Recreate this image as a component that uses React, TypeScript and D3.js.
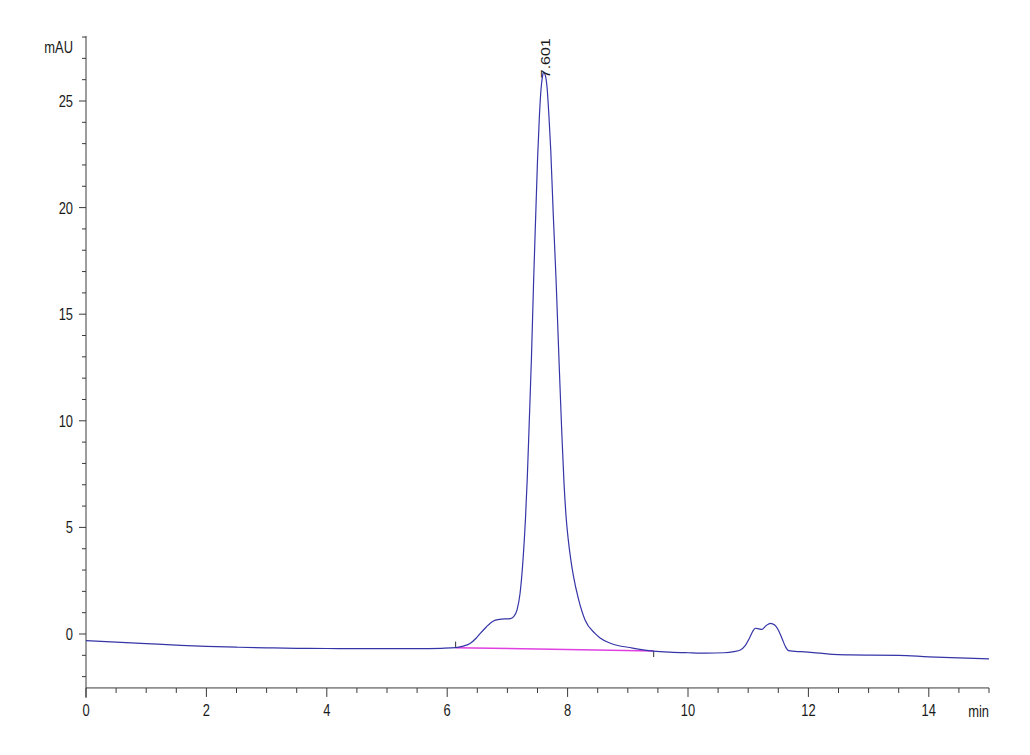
import React from "react";
import * as d3 from "d3";

// Chromatogram trace (time in min, absorbance in mAU)
const times = [
  0, 0.5, 1.0, 1.5, 2.0, 2.5, 3.0, 3.5, 4.0, 4.5, 5.0, 5.5, 5.9, 6.14, 6.25, 6.38, 6.48, 6.55, 6.65, 6.72, 6.8, 6.9, 7.0, 7.05, 7.1,
  7.16, 7.21, 7.26, 7.3, 7.33, 7.36, 7.4, 7.435, 7.47, 7.5, 7.53, 7.56, 7.58, 7.601, 7.63, 7.66, 7.69, 7.72, 7.76, 7.81, 7.857,
  7.9, 7.94, 7.975, 8.01, 8.05, 8.095, 8.18, 8.29, 8.455, 8.54, 8.7, 8.85, 9.0, 9.2, 9.43, 9.7, 10.0, 10.3, 10.6, 10.76,
  10.87, 10.95, 11.02, 11.08, 11.12, 11.18, 11.23, 11.3, 11.37, 11.44, 11.5, 11.56, 11.62, 11.67, 11.87, 12.0, 12.2, 12.4, 12.7,
  13.0, 13.5, 14.0, 14.5, 15.0,
];
const values = [
  -0.31, -0.38, -0.45, -0.52, -0.58, -0.62, -0.65, -0.67, -0.68, -0.69, -0.69, -0.69, -0.67, -0.64, -0.58, -0.44, -0.2, 0.03,
  0.33, 0.52, 0.65, 0.7, 0.71, 0.72, 0.8, 1.13, 1.9, 3.5, 5.4, 7.3, 9.7, 13.0, 16.5, 19.6, 22.2, 24.2, 25.6, 26.1, 26.35, 26.2,
  25.6, 24.3, 22.7, 19.8, 16.5, 12.85, 9.7, 7.1, 5.5, 4.45, 3.55, 2.75, 1.65, 0.66, 0.03, -0.19, -0.42, -0.55, -0.62,
  -0.72, -0.8, -0.85, -0.88, -0.9, -0.88, -0.83, -0.75, -0.55, -0.2, 0.15, 0.27, 0.24, 0.22, 0.4, 0.5, 0.42, 0.19, -0.2, -0.6,
  -0.78, -0.83, -0.85, -0.9, -0.96, -0.98, -0.99, -1.0, -1.07, -1.12, -1.17,
];

// Integration baseline (start, end)
const baseTimes = [6.14, 9.43];
const baseValues = [-0.64, -0.8];

const peakTime = 7.601;
const peakValue = 26.35;
const peakLabel = "7.601";

const xMajorTicks = [0, 2, 4, 6, 8, 10, 12, 14];
const yMajorTicks = [0, 5, 10, 15, 20, 25];

export default function App() {
  const W = 1030;
  const H = 755;
  const x = d3.scaleLinear().domain([0, 15]).range([86, 989]);
  const y = d3.scaleLinear().domain([0, 25]).range([634, 101]);
  const yBottom = -2.53;
  const yTop = 28.05;
  const axisY = y(yBottom);
  const axisX = x(0);

  const xMinor = d3.range(0, 15.001, 0.5);
  const yMinor = d3.range(-2, 28.001, 1);

  const line = d3
    .line<number>()
    .x((_, i) => x(times[i]))
    .y((d) => y(d))
    .curve(d3.curveMonotoneX);

  const baseLine = d3
    .line<number>()
    .x((_, i) => x(baseTimes[i]))
    .y((d) => y(d));

  const axisColor = "#3a3a3a";
  const textColor = "#1a1a1a";
  const font = "'Liberation Sans', Arial, sans-serif";
  const sx = 0.76;

  const Label = ({ tx, ty, text, anchor }: { tx: number; ty: number; text: string; anchor: string }) => (
    <text
      transform={`translate(${tx},${ty}) scale(${sx},1)`}
      textAnchor={anchor}
      fontFamily={font}
      fontSize={17}
      fill={textColor}
    >
      {text}
    </text>
  );

  return (
    <svg
      width={W}
      height={H}
      style={{ position: "absolute", left: 0, top: 0, background: "#fff" }}
    >
      <rect width={W} height={H} fill="#fff" />
      {/* Axes lines */}
      <line x1={axisX} x2={x(15)} y1={axisY} y2={axisY} stroke={axisColor} strokeWidth={1} />
      <line x1={axisX} x2={axisX} y1={y(yTop)} y2={axisY + 10} stroke={axisColor} strokeWidth={1} />

      {/* X ticks */}
      {xMinor.map((t) => {
        const major = Math.abs(t - Math.round(t / 2) * 2) < 1e-6;
        return (
          <line
            key={"xt" + t}
            x1={x(t)}
            x2={x(t)}
            y1={axisY}
            y2={axisY + (major ? 9 : 5)}
            stroke={axisColor}
            strokeWidth={1}
          />
        );
      })}
      {xMajorTicks.map((t) => (
        <Label key={"xl" + t} tx={x(t)} ty={716} text={String(t)} anchor="middle" />
      ))}
      <Label tx={989} ty={717} text="min" anchor="end" />

      {/* Y ticks */}
      {yMinor.map((v) => {
        const major = Math.abs(v - Math.round(v / 5) * 5) < 1e-6;
        return (
          <line
            key={"yt" + v}
            x1={axisX - (major ? 7 : 4)}
            x2={axisX}
            y1={y(v)}
            y2={y(v)}
            stroke={axisColor}
            strokeWidth={1}
          />
        );
      })}
      {yMajorTicks.map((v) => (
        <Label key={"yl" + v} tx={73} ty={y(v) + 6} text={String(v)} anchor="end" />
      ))}
      <Label tx={73} ty={53} text="mAU" anchor="end" />

      {/* Integration baseline */}
      <path d={baseLine(baseValues) || ""} fill="none" stroke="#e040e0" strokeWidth={1.5} />
      <line
        x1={x(baseTimes[0])}
        x2={x(baseTimes[0])}
        y1={y(baseValues[0]) - 6}
        y2={y(baseValues[0])}
        stroke="#333"
        strokeWidth={1}
      />
      <line
        x1={x(baseTimes[1])}
        x2={x(baseTimes[1])}
        y1={y(baseValues[1])}
        y2={y(baseValues[1]) + 6}
        stroke="#333"
        strokeWidth={1}
      />

      {/* Trace */}
      <path d={line(values) || ""} fill="none" stroke="#3535a8" strokeWidth={1.2} />

      {/* Peak label */}
      <text
        transform={`translate(${x(peakTime) + 6},${y(peakValue) + 6}) scale(0.85,1) rotate(-90)`}
        textAnchor="start"
        fontFamily={font}
        fontSize={16}
        fill={textColor}
      >
        {peakLabel}
      </text>
    </svg>
  );
}
